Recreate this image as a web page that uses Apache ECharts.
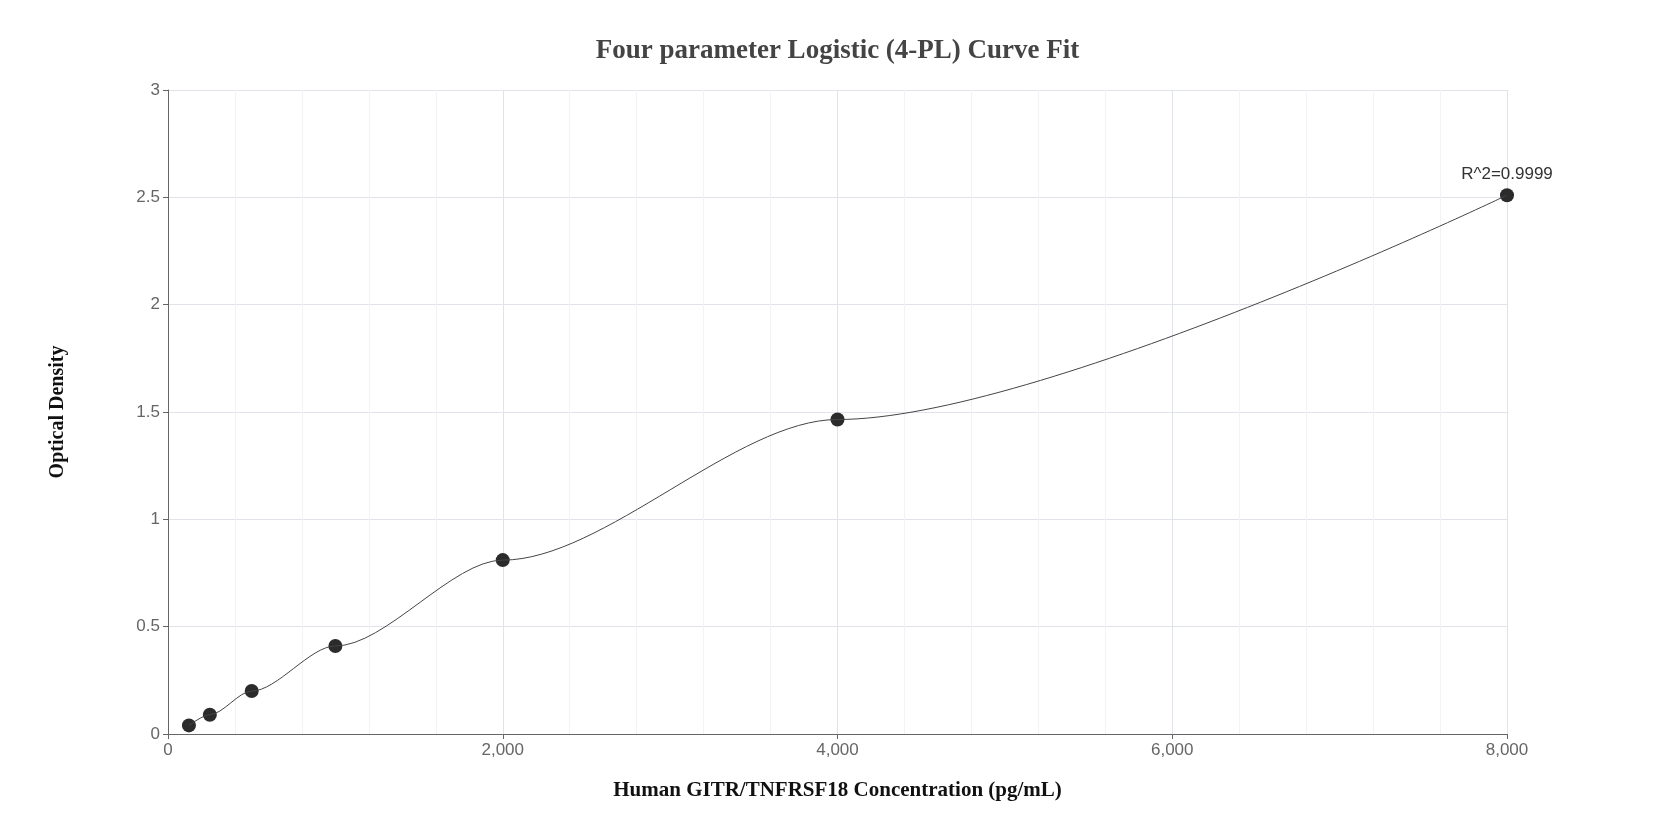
<!DOCTYPE html>
<html><head><meta charset="utf-8">
<script src="https://cdn.jsdelivr.net/npm/echarts@6/dist/echarts.min.js"></script>
<style>html,body{margin:0;padding:0;background:#fff}#c{width:1675px;height:840px}</style>
</head><body><div id="c"></div>
<script>
const concentrations = [125, 250, 500, 1000, 2000, 4000, 8000];
const odValues = [0.04, 0.09, 0.2, 0.41, 0.81, 1.465, 2.51];
const xTicks = [0, 2000, 4000, 6000, 8000];
const yTicks = [0, 0.5, 1, 1.5, 2, 2.5, 3];
const r2Label = 'R^2=0.9999';

const pts = concentrations.map((x, i) => [x, odValues[i]]);
const chart = echarts.init(document.getElementById('c'));
chart.setOption({
  animation: false,
  title: { text: 'Four parameter Logistic (4-PL) Curve Fit', left: 'center', top: 33,
    textStyle: { fontFamily: 'Liberation Serif', fontWeight: 'bold', fontSize: 27, color: '#444' } },
  grid: { left: 168, right: 168, top: 90, bottom: 106 },
  xAxis: { type: 'value', min: xTicks[0], max: xTicks[xTicks.length - 1], interval: 2000,
    name: 'Human GITR/TNFRSF18 Concentration (pg/mL)', nameLocation: 'middle', nameGap: 46,
    nameTextStyle: { fontFamily: 'Liberation Serif', fontWeight: 'bold', fontSize: 21, color: '#111' },
    axisLine: { lineStyle: { color: '#666' } }, axisTick: { show: true, lineStyle: { color: '#666' } },
    axisLabel: { fontSize: 17, color: '#666', formatter: v => v.toLocaleString('en-US') },
    splitLine: { show: true, lineStyle: { color: '#e0e3ea' } },
    minorTick: { show: false, splitNumber: 5 },
    minorSplitLine: { show: true, lineStyle: { color: '#f2f3f6' } } },
  yAxis: { type: 'value', min: yTicks[0], max: yTicks[yTicks.length - 1], interval: 0.5,
    name: 'Optical Density', nameLocation: 'middle', nameGap: 100,
    nameTextStyle: { fontFamily: 'Liberation Serif', fontWeight: 'bold', fontSize: 20, color: '#111' },
    axisLine: { show: true, lineStyle: { color: '#666' } }, axisTick: { show: true, lineStyle: { color: '#666' } },
    axisLabel: { fontSize: 17, color: '#666' },
    splitLine: { show: true, lineStyle: { color: '#e0e3ea' } } },
  series: [
    { type: 'line', data: pts, smooth: 0.3, smoothMonotone: 'x', showSymbol: false, lineStyle: { color: '#444', width: 1 }, silent: true },
    { type: 'scatter', data: pts, symbolSize: 14, itemStyle: { color: '#2b2b2b', opacity: 1 },
      label: { show: true, position: 'top', fontSize: 17, color: '#333',
        formatter: p => p.dataIndex === pts.length - 1 ? r2Label : '' } }
  ]
});
</script></body></html>
